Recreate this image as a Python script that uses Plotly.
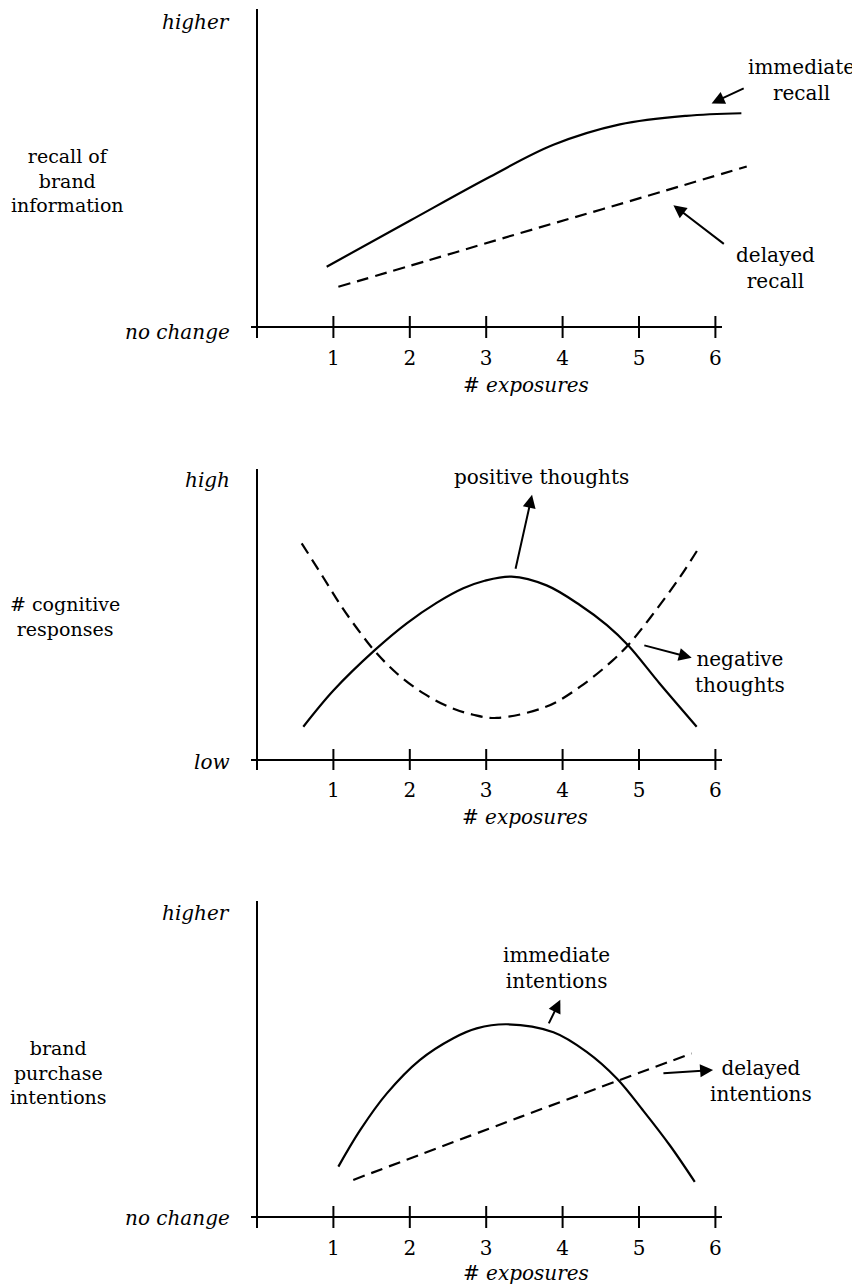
import plotly.graph_objects as go

PAGE_W, PAGE_H = 860, 1287
OFF = 8                      # browser body margin
W, H = PAGE_W - OFF, PAGE_H - OFF
FONT = "DejaVu Serif"
FS = 20
FS_YT = 19

# ---------------- data ----------------
exposure_ticks = [1, 2, 3, 4, 5, 6]
tick_labels = ["1", "2", "3", "4", "5", "6"]

# Panel 1: recall of brand information
imm_recall_x = [0.912, 2.0, 3.05, 3.88, 4.75, 5.62, 6.34]
imm_recall_y = [0.189, 0.333, 0.471, 0.571, 0.635, 0.662, 0.670]
del_recall_x = [1.065, 2.26, 3.44, 4.53, 6.41]
del_recall_y = [0.126, 0.21, 0.294, 0.37, 0.503]

# Panel 2: # cognitive responses
pos_x = [0.606, 1.0, 1.545, 1.96, 2.35, 2.7, 2.98, 3.33, 3.79, 4.23, 4.58, 4.86, 5.27, 5.755]
pos_y = [0.114, 0.238, 0.377, 0.468, 0.538, 0.588, 0.614, 0.628, 0.598, 0.530, 0.462, 0.392, 0.262, 0.114]
neg_x = [0.585, 0.868, 1.108, 1.348, 1.545, 1.828, 2.18, 2.53, 2.83, 3.14, 3.79, 4.23, 4.66, 4.88, 5.19, 5.54, 5.78]
neg_y = [0.742, 0.625, 0.525, 0.437, 0.372, 0.297, 0.228, 0.180, 0.155, 0.144, 0.183, 0.251, 0.342, 0.40, 0.502, 0.628, 0.725]

# Panel 3: brand purchase intentions
imm_int_x = [1.065, 1.35, 1.70, 2.13, 2.57, 2.875, 3.27, 3.88, 4.315, 4.71, 5.06, 5.41, 5.73]
imm_int_y = [0.159, 0.274, 0.39, 0.495, 0.564, 0.595, 0.608, 0.583, 0.521, 0.437, 0.334, 0.224, 0.111]
del_int_x = [1.26, 3.44, 5.69]
del_int_y = [0.117, 0.315, 0.516]

# ---------------- layout geometry (reference page pixels) ----------------
X0_PX, UNIT_PX = 257, 76.4          # page pixel of x=0 and pixels per exposure
x_range = [(OFF - X0_PX) / UNIT_PX, (PAGE_W - X0_PX) / UNIT_PX]

panels = [
    dict(y0=327, y1=8, top=8, bot=338),
    dict(y0=760, y1=468, top=430, bot=770),
    dict(y0=1217, y1=900, top=860, bot=1228),
]

def px_x(px):
    return (px - OFF) / W

def px_y(py):
    return 1 - (py - OFF) / H

fig = go.Figure()

def ax_names(i):
    return ("x" if i == 0 else f"x{i+1}", "y" if i == 0 else f"y{i+1}")

solid = dict(color="black", width=2.2, shape="spline", smoothing=1.0)
dashed = dict(color="black", width=2.2, shape="spline", smoothing=1.0, dash="12px,7px")

series = [
    [(imm_recall_x, imm_recall_y, solid), (del_recall_x, del_recall_y, dashed)],
    [(pos_x, pos_y, solid), (neg_x, neg_y, dashed)],
    [(imm_int_x, imm_int_y, solid), (del_int_x, del_int_y, dashed)],
]

for i, ser in enumerate(series):
    xa, ya = ax_names(i)
    for xs, ys, ln in ser:
        fig.add_trace(go.Scatter(x=xs, y=ys, mode="lines", line=ln,
                                 xaxis=xa, yaxis=ya, showlegend=False, hoverinfo="skip"))

layout = dict(width=W, height=H, margin=dict(l=0, r=0, t=0, b=0),
              paper_bgcolor="white", plot_bgcolor="white", showlegend=False)

shapes = []
annotations = []

y_labels = [("higher", "no change"), ("high", "low"), ("higher", "no change")]
y_titles = ["recall of<br>brand<br>information", "# cognitive<br>responses",
            "brand<br>purchase<br>intentions"]
y_title_pos = [(67, 181), (65, 616), (58, 1072)]
y_top_label_px = [22, 480, 913]
y_bot_label_px = [332, 762, 1218]
xtitle_px = [(526, 385), (525, 817), (526, 1273)]

callouts = [
    [("immediate<br>recall", 801, 80), ("delayed<br>recall", 775, 268)],
    [("positive thoughts", 541, 477), ("negative<br>thoughts", 740, 672)],
    [("immediate<br>intentions", 556, 968), ("delayed<br>intentions", 761, 1081)],
]
# arrows: (head x, head y, tail x, tail y) in data units
arrows = [
    [(5.95, 0.701, 6.39, 0.75), (5.45, 0.382, 6.13, 0.257)],
    [(3.60, 0.908, 3.38, 0.65), (5.69, 0.35, 5.05, 0.394)],
    [(3.97, 0.685, 3.81, 0.606), (5.97, 0.464, 5.30, 0.453)],
]

font = dict(family=FONT, size=FS, color="black")
base = dict(xref="paper", yref="paper", showarrow=False, font=font)

for i, p in enumerate(panels):
    xa, ya = ax_names(i)
    span = p["y0"] - p["y1"]
    val = lambda py, p=p, span=span: (p["y0"] - py) / span
    xval = lambda px: (px - X0_PX) / UNIT_PX
    xkey = "xaxis" if i == 0 else f"xaxis{i+1}"
    ykey = "yaxis" if i == 0 else f"yaxis{i+1}"
    layout[xkey] = dict(domain=[0, 1], range=x_range, anchor=ya,
                        tickvals=exposure_ticks, ticktext=tick_labels,
                        ticks="outside", ticklen=2, tickcolor="rgba(0,0,0,0)",
                        showline=False, showgrid=False, zeroline=False,
                        tickfont=font, fixedrange=True)
    layout[ykey] = dict(domain=[px_y(p["bot"]), px_y(p["top"])],
                        range=[val(p["bot"]), val(p["top"])], anchor=xa,
                        showticklabels=False, showline=False, showgrid=False,
                        zeroline=False, ticks="", fixedrange=True)

    ext = 11 / span
    line = dict(color="black", width=2)
    shapes.append(dict(type="line", xref=xa, yref=ya, x0=xval(251), x1=xval(722),
                       y0=0, y1=0, line=line))
    shapes.append(dict(type="line", xref=xa, yref=ya, x0=0, x1=0,
                       y0=-ext, y1=val(p["y1"] + 1), line=line))
    for t in exposure_ticks:
        shapes.append(dict(type="line", xref=xa, yref=ya, x0=t, x1=t,
                           y0=-ext, y1=ext, line=line))

    top_lab, bot_lab = y_labels[i]
    annotations.append(dict(base, text=f"<i>{top_lab}</i>", x=px_x(232), y=px_y(y_top_label_px[i]),
                            xanchor="right", yanchor="middle"))
    annotations.append(dict(base, text=f"<i>{bot_lab}</i>", x=px_x(232), y=px_y(y_bot_label_px[i]),
                            xanchor="right", yanchor="middle"))
    tx, ty = y_title_pos[i]
    annotations.append(dict(base, text=y_titles[i], x=px_x(tx), y=px_y(ty),
                            xanchor="center", yanchor="middle", align="center",
                            font=dict(family=FONT, size=FS_YT, color="black")))
    ex, ey = xtitle_px[i]
    annotations.append(dict(base, text="<i># exposures</i>", x=px_x(ex), y=px_y(ey),
                            xanchor="center", yanchor="middle"))
    for txt, cx, cy in callouts[i]:
        annotations.append(dict(base, text=txt, x=px_x(cx), y=px_y(cy),
                                xanchor="center", yanchor="middle", align="center"))
    for hx, hy, tx2, ty2 in arrows[i]:
        annotations.append(dict(xref=xa, yref=ya, axref=xa, ayref=ya,
                                x=hx, y=hy, ax=tx2, ay=ty2, text="",
                                showarrow=True, arrowhead=2, arrowsize=1.3,
                                arrowwidth=2, arrowcolor="black", standoff=0))

layout["shapes"] = shapes
layout["annotations"] = annotations
fig.update_layout(**layout)
fig.write_html("out.html")
